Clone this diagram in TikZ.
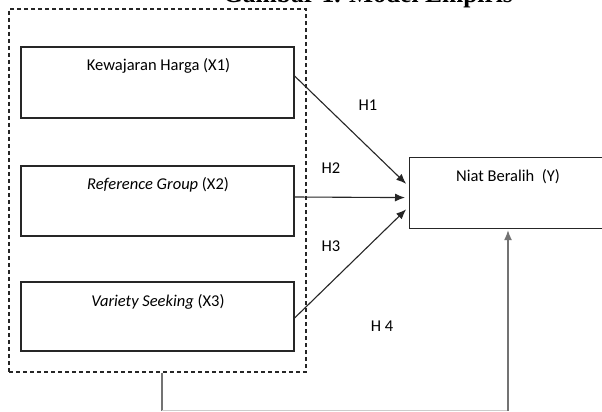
\documentclass[tikz,border=0pt]{standalone}
\usepackage{fontspec}
\setmainfont{Carlito}
\newfontfamily\titlefont{Liberation Serif}
\usetikzlibrary{arrows.meta}
\tikzset{
  varbox/.style={draw=black!85, line width=1.2pt, rectangle, inner sep=0pt},
  grpbox/.style={draw=black!85, line width=1.1pt, dash pattern=on 4pt off 3pt, rectangle, inner sep=0pt},
  txt/.style={font=\fontsize{16.5}{18}\selectfont, inner sep=0pt},
  hyp/.style={font=\fontsize{16.5}{18}\selectfont, inner sep=0pt},
  arr/.style={draw=black!85, line width=1.1pt, -{Latex[length=10pt,width=8pt]}, shorten >=4pt},
  grayarr/.style={draw=black!55, line width=1.3pt, -{Latex[length=10pt,width=8pt]}, shorten >=1pt},
}
\begin{document}
\begin{tikzpicture}[x=1pt,y=-1pt]
\useasboundingbox (0,0) rectangle (602,412);
\clip (0,0) rectangle (602,412);
\fill[white] (0,0) rectangle (602,412);
% title (cut off at the top)
\node[font=\titlefont\bfseries\fontsize{25.5}{28}\selectfont, anchor=base, inner sep=0pt] (title) at (368,3) {Gambar 1. Model Empiris};
% group box
\node[grpbox, minimum width=297pt, minimum height=363pt] (grp) at (157.5,190.5) {};
% variable boxes
\node[varbox, minimum width=273pt, minimum height=71pt] (x1) at (157.5,82.5) {};
\node[varbox, minimum width=273pt, minimum height=70pt] (x2) at (157.5,201) {};
\node[varbox, minimum width=273pt, minimum height=69pt] (x3) at (157.5,316.5) {};
\node[varbox, minimum width=220pt, minimum height=71pt, anchor=north west] (y) at (409,157) {};
% texts
\node[txt] (t1) at (158.5,66) {Kewajaran Harga (X1)};
\node[txt] (t2) at (158,185) {\textit{Reference Group} (X2)};
\node[txt] (t3) at (158,302) {\textit{Variety Seeking} (X3)};
\node[txt] (ty) at (508,177) {Niat Beralih\ \ (Y)};
% arrows
\draw[arr] ([yshift=6.5pt]x1.east) -- ([yshift=6.5pt]y.west);
\draw[arr] ([yshift=4pt]x2.east) -- ([yshift=-4.5pt]y.west);
\draw[arr] ([yshift=-1.5pt]x3.east) -- ([yshift=-13.5pt]y.west);
\coordinate (h4a) at (162,410.5);
\coordinate (h4b) at (508,410.5);
\draw[draw=black!55, line width=1.3pt] (grp.south -| h4a) -- (h4a);
\draw[draw=black!20, line width=1.3pt] (h4a) -- (h4b);
\draw[grayarr] (h4b) -- (y.south -| h4b);
% labels
\node[hyp] (h1) at (368,105) {H1};
\node[hyp] (h2) at (331,168) {H2};
\node[hyp] (h3) at (331,246) {H3};
\node[hyp] (h4) at (382,326) {H 4};
\end{tikzpicture}
\end{document}
